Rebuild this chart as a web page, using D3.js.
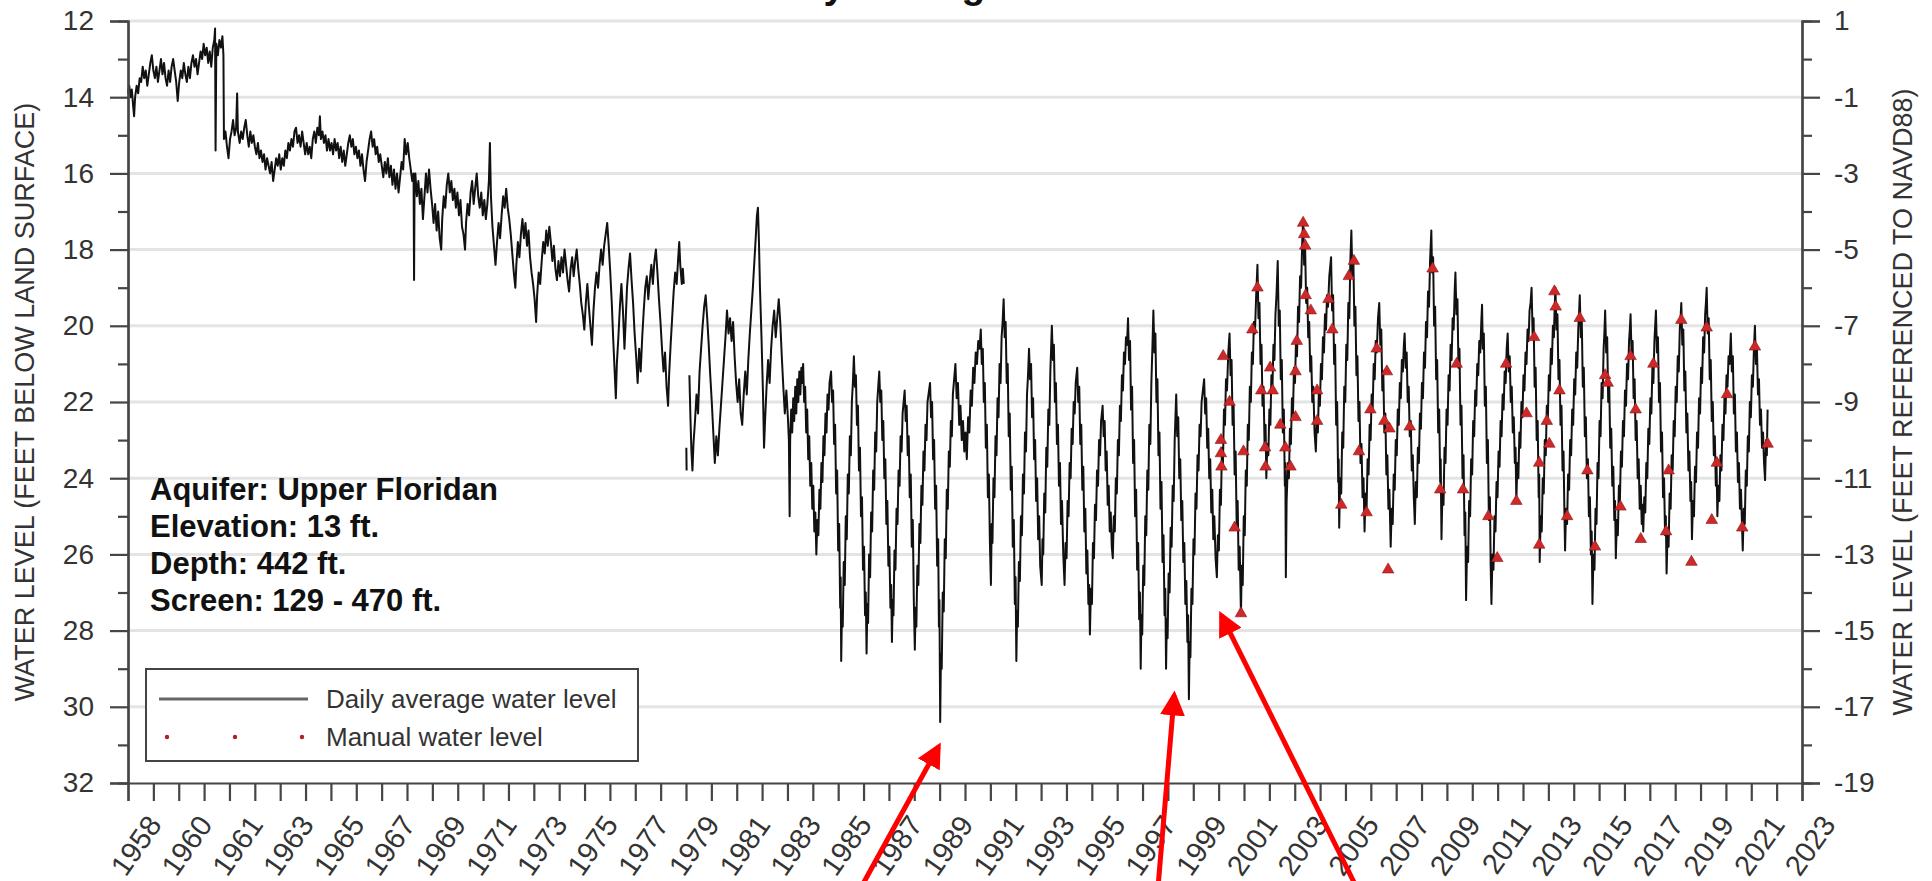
<!DOCTYPE html>
<html>
<head>
<meta charset="utf-8">
<script src="https://cdn.jsdelivr.net/npm/d3@7"></script>
<style>
  body { margin: 0; background: #fff; }
  svg { display: block; font-family: "Liberation Sans", Arial, sans-serif; }
</style>
</head>
<body>
<svg id="chart" width="1932" height="881"></svg>
<script>
// ---- daily average water level, feet below land surface, [decimal year, level]; null = gap ----
const levels1958to1969 = [
  [1958.00,13.9],[1958.05,13.7],[1958.10,14.0],[1958.15,13.8],[1958.20,14.2],[1958.24,14.5],[1958.28,14.0],[1958.34,13.7],[1958.40,13.9],[1958.46,13.5],[1958.52,13.6],[1958.58,13.2],[1958.64,13.5],[1958.70,13.3],[1958.76,13.7],[1958.82,13.4],[1958.88,13.1],[1958.94,12.9],
  [1959.00,13.3],[1959.06,13.5],[1959.12,13.2],[1959.18,13.6],[1959.24,13.3],[1959.30,13.0],[1959.36,13.4],[1959.42,13.1],[1959.48,13.5],[1959.54,13.7],[1959.60,13.3],[1959.66,13.6],[1959.72,13.2],[1959.78,13.0],[1959.84,13.3],[1959.90,13.6],[1959.96,14.1],
  [1960.02,13.6],[1960.08,13.3],[1960.14,13.5],[1960.20,13.1],[1960.26,13.4],[1960.32,13.6],[1960.38,13.2],[1960.44,13.5],[1960.50,13.1],[1960.56,12.9],[1960.62,13.2],[1960.68,13.0],[1960.74,13.4],[1960.80,13.1],[1960.86,12.8],[1960.92,13.0],[1960.98,12.6],
  [1961.04,12.9],[1961.10,12.7],[1961.16,13.1],[1961.22,12.8],[1961.28,13.2],[1961.34,12.7],[1961.40,12.5],[1961.43,12.2],[1961.45,15.4],[1961.48,12.6],[1961.54,12.9],[1961.60,12.5],[1961.66,12.7],[1961.72,12.4],[1961.76,12.9],[1961.78,15.1],[1961.84,14.9],[1961.90,15.3],[1961.96,15.6],
  [1962.02,15.1],[1962.08,14.9],[1962.14,14.6],[1962.20,15.0],[1962.26,14.8],[1962.30,13.9],[1962.33,14.9],[1962.40,15.2],[1962.46,14.9],[1962.52,15.1],[1962.58,14.8],[1962.64,14.6],[1962.70,15.0],[1962.76,15.3],[1962.82,14.9],[1962.88,15.2],[1962.94,15.0],
  [1963.00,15.3],[1963.06,15.5],[1963.12,15.2],[1963.18,15.6],[1963.24,15.4],[1963.30,15.7],[1963.36,15.5],[1963.42,15.9],[1963.48,15.6],[1963.54,15.8],[1963.60,16.0],[1963.66,15.7],[1963.72,16.2],[1963.78,15.9],[1963.84,15.6],[1963.90,15.8],[1963.96,15.5],
  [1964.02,15.9],[1964.08,15.6],[1964.14,15.8],[1964.20,15.4],[1964.26,15.6],[1964.32,15.2],[1964.38,15.4],[1964.44,15.1],[1964.50,15.3],[1964.56,14.9],[1964.62,14.8],[1964.68,15.2],[1964.74,15.0],[1964.80,15.3],[1964.86,14.9],[1964.92,15.2],[1964.98,15.5],
  [1965.04,15.2],[1965.10,15.5],[1965.16,15.3],[1965.22,15.6],[1965.28,15.1],[1965.34,14.9],[1965.40,15.2],[1965.46,14.8],[1965.52,15.0],[1965.56,14.5],[1965.60,15.1],[1965.66,14.9],[1965.72,15.2],[1965.78,15.0],[1965.84,15.4],[1965.90,15.1],[1965.96,15.4],
  [1966.02,15.2],[1966.08,15.5],[1966.14,15.1],[1966.20,15.4],[1966.26,15.2],[1966.32,15.6],[1966.38,15.3],[1966.44,15.7],[1966.50,15.4],[1966.56,15.8],[1966.62,15.5],[1966.68,15.2],[1966.74,15.0],[1966.80,15.3],[1966.86,15.1],[1966.92,15.5],[1966.98,15.3],
  [1967.04,15.6],[1967.10,15.4],[1967.16,15.8],[1967.22,15.5],[1967.28,15.9],[1967.34,16.2],[1967.40,15.7],[1967.46,15.4],[1967.52,15.1],[1967.58,14.9],[1967.64,15.3],[1967.70,15.1],[1967.76,15.5],[1967.82,15.3],[1967.88,15.7],[1967.94,15.5],
  [1968.00,15.8],[1968.06,16.1],[1968.12,15.7],[1968.18,16.0],[1968.24,15.6],[1968.30,16.1],[1968.36,15.8],[1968.42,16.3],[1968.48,15.9],[1968.54,16.4],[1968.60,16.0],[1968.66,16.5],[1968.72,16.1],[1968.78,15.7],[1968.84,15.9],[1968.90,15.1],[1968.96,15.5],
  [1969.02,15.2],[1969.08,15.6],[1969.14,15.9],[1969.20,16.2],[1969.25,16.0],[1969.27,18.8],[1969.29,16.3]
];
const levels1969to1980 = [
  [1969.32,16.0],[1969.38,16.6],[1969.44,16.2],[1969.50,16.8],[1969.56,16.4],[1969.62,17.2],[1969.68,16.6],[1969.74,16.0],[1969.80,16.5],[1969.86,15.9],[1969.92,16.4],[1969.98,16.8],
  [1970.04,17.3],[1970.10,16.8],[1970.16,17.5],[1970.22,17.0],[1970.28,17.7],[1970.34,18.0],[1970.38,17.2],[1970.44,16.6],[1970.50,16.9],[1970.56,16.3],[1970.62,16.0],[1970.68,16.5],[1970.74,16.2],[1970.80,16.7],[1970.86,16.4],[1970.92,16.9],[1970.98,16.5],
  [1971.04,17.1],[1971.10,16.7],[1971.16,17.4],[1971.22,17.6],[1971.28,18.0],[1971.32,17.3],[1971.38,16.8],[1971.44,17.1],[1971.50,16.5],[1971.56,16.2],[1971.62,16.8],[1971.68,16.4],[1971.74,16.0],[1971.80,16.6],[1971.86,16.9],[1971.92,16.5],[1971.98,17.1],
  [1972.04,16.7],[1972.10,17.2],[1972.16,16.8],[1972.22,16.2],[1972.26,15.2],[1972.30,16.6],[1972.36,17.4],[1972.42,17.9],[1972.48,18.4],[1972.54,17.8],[1972.60,17.3],[1972.66,17.7],[1972.72,17.1],[1972.78,16.6],[1972.84,16.9],[1972.90,16.4],[1972.96,16.9],
  [1973.02,17.2],[1973.08,17.6],[1973.14,18.1],[1973.20,18.6],[1973.26,19.0],[1973.30,18.4],[1973.36,17.8],[1973.42,18.2],[1973.48,17.6],[1973.54,17.2],[1973.60,17.7],[1973.66,17.3],[1973.72,17.9],[1973.78,17.5],[1973.84,18.2],[1973.90,18.6],[1973.96,18.9],
  [1974.02,19.3],[1974.08,19.9],[1974.12,19.2],[1974.18,18.6],[1974.24,18.9],[1974.30,18.3],[1974.36,17.8],[1974.42,18.1],[1974.48,17.5],[1974.54,17.9],[1974.60,17.4],[1974.66,17.8],[1974.72,18.3],[1974.78,17.9],[1974.84,18.5],[1974.90,18.8],[1974.96,18.3],
  [1975.02,18.7],[1975.08,18.2],[1975.14,18.6],[1975.20,18.0],[1975.26,18.4],[1975.32,18.8],[1975.38,19.1],[1975.44,18.5],[1975.50,18.2],[1975.56,18.7],[1975.62,18.3],[1975.68,18.0],[1975.74,18.5],[1975.80,18.9],[1975.86,19.4],[1975.92,19.7],[1975.98,20.1],
  [1976.04,19.4],[1976.10,18.9],[1976.16,19.5],[1976.22,20.0],[1976.28,20.5],[1976.34,19.6],[1976.40,19.0],[1976.46,18.6],[1976.52,19.0],[1976.58,18.4],[1976.64,18.0],[1976.70,18.4],[1976.76,17.9],[1976.82,17.6],[1976.88,17.3],[1976.94,17.9],
  [1977.00,18.6],[1977.06,19.4],[1977.12,20.4],[1977.18,21.3],[1977.22,21.9],[1977.26,21.0],[1977.32,20.3],[1977.38,19.5],[1977.44,18.9],[1977.50,19.6],[1977.56,20.6],[1977.60,20.0],[1977.66,19.0],[1977.72,18.5],[1977.78,18.1],[1977.84,18.8],[1977.90,19.4],[1977.96,20.2],
  [1978.02,20.8],[1978.08,21.5],[1978.14,20.6],[1978.20,21.2],[1978.26,20.3],[1978.32,19.6],[1978.38,19.0],[1978.44,18.7],[1978.50,19.3],[1978.56,18.8],[1978.62,18.4],[1978.68,18.9],[1978.74,18.3],[1978.80,18.0],[1978.86,18.6],[1978.92,19.3],[1978.98,19.9],
  [1979.04,20.6],[1979.10,21.2],[1979.16,20.7],[1979.22,21.6],[1979.28,22.1],[1979.32,21.3],[1979.38,20.5],[1979.44,19.8],[1979.50,19.1],[1979.56,18.6],[1979.62,18.9],[1979.68,18.2],[1979.72,17.8],[1979.76,18.4],[1979.82,18.9],[1979.86,18.5],[1979.90,18.9],
  null,
  [1980.00,23.2],[1980.01,23.8],
  null
];
const levels1980to1990 = [
  [1980.12,21.3],[1980.16,22.4],[1980.20,23.3],[1980.24,23.8],[1980.28,23.1],[1980.34,22.5],[1980.40,21.8],[1980.46,22.3],[1980.52,21.2],[1980.58,20.6],[1980.64,20.0],[1980.70,19.5],[1980.76,19.2],[1980.82,19.8],[1980.88,20.5],[1980.94,21.3],
  [1981.00,22.0],[1981.06,22.8],[1981.12,23.6],[1981.18,22.9],[1981.24,23.4],[1981.30,22.7],[1981.36,22.1],[1981.42,21.5],[1981.48,20.9],[1981.54,20.3],[1981.60,19.6],[1981.66,20.2],[1981.72,19.8],[1981.78,20.4],[1981.84,19.9],[1981.90,20.8],[1981.96,21.5],
  [1982.02,22.0],[1982.08,21.4],[1982.14,22.3],[1982.20,22.6],[1982.26,21.8],[1982.32,21.2],[1982.38,21.8],[1982.44,20.9],[1982.50,20.2],[1982.56,19.6],[1982.62,19.0],[1982.68,18.3],[1982.74,17.6],[1982.78,17.1],[1982.82,16.9],[1982.86,17.8],[1982.90,19.0],[1982.96,20.3],
  [1983.02,21.8],[1983.06,23.2],[1983.10,22.5],[1983.16,21.6],[1983.22,20.9],[1983.28,21.5],[1983.34,20.6],[1983.40,20.0],[1983.46,19.6],[1983.52,20.3],[1983.58,19.8],[1983.64,19.3],[1983.70,19.9],[1983.76,20.8],[1983.82,21.6],[1983.88,22.3],[1983.94,21.7],[1984.00,22.4],[1984.04,23.0],[1984.07,25.0],
  [1984.09,23.0],[1984.13,22.2],[1984.17,22.8],[1984.21,21.9],[1984.25,22.5],[1984.29,21.6],[1984.33,22.3],[1984.37,21.4],[1984.41,22.0],[1984.45,21.2],[1984.49,21.8],[1984.53,21.1],[1984.57,21.5],[1984.60,21.0],[1984.64,22.0],[1984.68,21.6],[1984.72,22.8],[1984.76,22.2],[1984.80,23.5],[1984.84,22.9],[1984.88,24.2],[1984.92,23.6],[1984.96,24.8],[1985.00,24.2],[1985.04,25.4],[1985.08,24.9],[1985.12,26.0],
  [1985.16,25.1],[1985.20,25.5],[1985.24,24.3],[1985.28,24.8],[1985.32,23.6],[1985.36,24.1],[1985.40,22.9],[1985.44,23.4],[1985.48,22.3],[1985.52,22.8],[1985.56,21.8],[1985.60,22.2],[1985.64,21.5],[1985.70,21.2],[1985.74,22.0],[1985.78,21.7],[1985.82,23.1],[1985.86,22.6],[1985.90,24.4],[1985.94,23.8],[1985.98,25.9],[1986.02,25.2],[1986.06,27.4],[1986.08,26.6],[1986.10,28.8],
  [1986.13,27.5],[1986.16,27.9],[1986.20,26.2],[1986.24,26.8],[1986.28,25.0],[1986.32,25.6],[1986.36,23.9],[1986.40,24.4],[1986.44,22.9],[1986.48,23.4],[1986.52,22.0],[1986.56,21.5],[1986.60,20.8],[1986.64,21.6],[1986.68,21.3],[1986.72,22.6],[1986.76,22.1],[1986.80,23.8],[1986.84,23.2],[1986.88,25.0],[1986.92,24.5],[1986.96,26.4],[1987.00,25.8],[1987.04,27.6],[1987.07,27.0],[1987.10,28.6],
  [1987.13,27.3],[1987.16,27.8],[1987.20,26.0],[1987.24,26.6],[1987.28,24.9],[1987.32,25.4],[1987.36,23.8],[1987.40,24.3],[1987.44,22.8],[1987.48,23.3],[1987.52,22.0],[1987.56,21.6],[1987.60,21.2],[1987.64,22.0],[1987.68,21.7],[1987.72,23.0],[1987.76,22.5],[1987.80,24.0],[1987.84,23.5],[1987.88,25.2],[1987.92,24.6],[1987.96,26.3],[1988.00,25.8],[1988.04,27.4],[1988.07,26.8],[1988.10,28.3],
  [1988.13,27.2],[1988.16,27.6],[1988.20,25.9],[1988.24,26.4],[1988.28,24.8],[1988.32,25.2],[1988.36,23.8],[1988.40,24.2],[1988.44,22.9],[1988.48,23.3],[1988.52,22.3],[1988.56,22.0],[1988.60,21.7],[1988.64,22.5],[1988.68,22.1],[1988.72,23.4],[1988.76,22.9],[1988.80,24.5],[1988.84,23.9],[1988.88,25.8],[1988.92,25.1],[1988.96,27.2],[1989.00,28.5],
  [1989.03,27.4],[1989.06,27.9],[1989.10,26.3],[1989.14,26.8],[1989.18,25.2],[1989.22,25.7],[1989.26,24.2],[1989.30,24.7],[1989.34,23.3],[1989.38,23.8],[1989.42,22.6],[1989.46,23.0],[1989.50,22.0],[1989.54,21.8],[1989.60,21.5],[1989.64,22.4],[1989.68,22.0],[1989.72,23.5],[1989.76,23.0],[1989.80,24.8],[1989.84,24.2],[1989.88,26.3],[1989.92,25.6],[1989.95,27.9],[1989.97,27.2],[1990.00,30.4]
];
const levels1990to2002 = [
  [1990.03,28.6],[1990.06,29.0],[1990.10,27.0],[1990.14,27.5],[1990.18,25.6],[1990.22,26.1],[1990.26,24.3],[1990.30,24.8],[1990.34,23.3],[1990.38,23.7],[1990.42,22.5],[1990.46,22.9],[1990.50,21.8],[1990.55,21.4],[1990.60,21.0],[1990.65,21.9],[1990.70,21.5],[1990.75,22.6],[1990.80,22.1],[1990.85,23.0],[1990.90,22.5],[1990.95,23.3],[1991.00,22.8],[1991.05,23.5],
  [1991.10,22.4],[1991.15,22.8],[1991.20,21.7],[1991.25,22.1],[1991.30,21.1],[1991.35,21.5],[1991.40,20.7],[1991.45,21.0],[1991.50,20.4],[1991.55,20.6],[1991.60,20.1],[1991.64,21.0],[1991.68,20.6],[1991.72,22.0],[1991.76,21.5],[1991.80,23.2],[1991.84,22.6],[1991.88,24.5],[1991.92,23.9],[1991.96,25.7],[1992.00,26.8],
  [1992.03,25.2],[1992.06,25.7],[1992.10,24.0],[1992.14,24.5],[1992.18,22.9],[1992.22,23.4],[1992.26,21.9],[1992.30,22.4],[1992.34,21.0],[1992.38,21.5],[1992.42,20.3],[1992.46,19.9],[1992.50,19.3],[1992.54,20.3],[1992.58,19.9],[1992.62,21.5],[1992.66,21.0],[1992.70,22.9],[1992.74,22.3],[1992.78,24.3],[1992.82,23.7],[1992.86,25.8],[1992.90,25.1],[1992.94,27.3],[1992.97,26.6],[1993.00,28.8],
  [1993.03,27.5],[1993.06,27.9],[1993.10,26.2],[1993.14,26.7],[1993.18,25.0],[1993.22,25.5],[1993.26,23.9],[1993.30,24.4],[1993.34,22.8],[1993.38,23.3],[1993.42,21.8],[1993.46,21.3],[1993.50,20.6],[1993.54,21.4],[1993.58,21.0],[1993.62,22.4],[1993.66,21.9],[1993.70,23.5],[1993.74,23.0],[1993.78,24.6],[1993.82,24.0],[1993.86,25.6],[1993.90,25.0],[1993.94,26.3],[1994.00,26.8],
  [1994.03,25.6],[1994.06,26.0],[1994.10,24.4],[1994.14,24.9],[1994.18,23.2],[1994.22,23.7],[1994.26,22.2],[1994.30,22.6],[1994.34,21.2],[1994.37,20.6],[1994.40,20.0],[1994.44,20.9],[1994.48,20.5],[1994.52,22.0],[1994.56,21.5],[1994.60,23.1],[1994.64,22.6],[1994.68,24.2],[1994.72,23.6],[1994.76,25.2],[1994.80,24.6],[1994.85,26.0],[1994.90,26.8],
  [1994.94,25.7],[1994.98,26.1],[1995.02,24.6],[1995.06,25.0],[1995.10,23.6],[1995.14,24.0],[1995.18,22.7],[1995.22,23.1],[1995.26,22.0],[1995.30,22.3],[1995.34,21.5],[1995.40,21.1],[1995.44,22.0],[1995.48,21.6],[1995.52,23.1],[1995.56,22.6],[1995.60,24.3],[1995.64,23.7],[1995.68,25.4],[1995.72,24.8],[1995.76,26.5],[1995.80,25.9],[1995.84,27.3],[1995.87,26.8],[1995.90,28.1],
  [1995.94,26.9],[1995.98,27.3],[1996.02,25.7],[1996.06,26.1],[1996.10,24.7],[1996.14,25.1],[1996.18,23.8],[1996.22,24.2],[1996.26,23.0],[1996.30,23.4],[1996.34,22.5],[1996.40,22.1],[1996.44,22.9],[1996.48,22.5],[1996.52,23.8],[1996.56,23.3],[1996.60,24.7],[1996.64,24.2],[1996.68,25.4],[1996.72,24.9],[1996.76,25.8],[1996.80,26.1],
  [1996.84,25.0],[1996.88,25.4],[1996.92,24.0],[1996.96,24.4],[1997.00,23.0],[1997.04,23.4],[1997.08,22.1],[1997.12,22.5],[1997.16,21.3],[1997.20,21.7],[1997.24,20.7],[1997.28,21.0],[1997.32,20.3],[1997.36,20.5],[1997.40,19.8],
  [1997.44,20.9],[1997.48,20.4],[1997.52,22.2],[1997.56,21.6],[1997.60,23.6],[1997.64,23.0],[1997.68,25.0],[1997.72,24.3],[1997.76,26.4],[1997.80,25.7],[1997.84,27.7],[1997.87,27.0],[1997.90,29.0],
  [1997.93,27.6],[1997.96,28.1],[1998.00,26.3],[1998.04,26.8],[1998.08,25.0],[1998.12,25.5],[1998.16,23.8],[1998.20,24.3],[1998.24,22.6],[1998.28,23.1],[1998.32,21.5],[1998.36,20.6],[1998.40,19.6],[1998.44,20.7],[1998.48,20.2],[1998.52,22.0],[1998.56,21.4],[1998.60,23.4],[1998.64,22.8],[1998.68,24.8],[1998.72,24.1],[1998.76,26.2],[1998.80,25.5],[1998.84,27.6],[1998.87,26.9],[1998.90,29.0],
  [1998.93,27.7],[1998.96,28.2],[1999.00,26.5],[1999.04,27.0],[1999.08,25.3],[1999.12,25.8],[1999.16,24.2],[1999.20,24.6],[1999.24,23.0],[1999.27,22.4],[1999.30,21.8],[1999.34,22.9],[1999.38,22.4],[1999.42,24.0],[1999.46,23.5],[1999.50,25.1],[1999.54,24.6],[1999.58,26.2],[1999.62,25.7],[1999.66,27.3],[1999.70,26.7],[1999.74,28.3],[1999.77,27.6],[1999.80,29.8],
  [1999.83,28.3],[1999.86,28.7],[1999.90,26.9],[1999.94,27.3],[1999.98,25.6],[2000.02,26.0],[2000.06,24.4],[2000.10,24.8],[2000.14,23.4],[2000.18,23.8],[2000.22,22.6],[2000.26,22.9],[2000.30,22.0],[2000.35,21.7],[2000.40,21.4],[2000.44,22.3],[2000.48,21.9],[2000.52,23.2],[2000.56,22.7],[2000.60,24.0],[2000.64,23.5],[2000.68,24.9],[2000.72,24.3],[2000.76,25.6],[2000.80,25.0],[2000.85,26.1],[2000.90,26.6],
  [2000.94,25.5],[2000.98,25.9],[2001.02,24.3],[2001.06,24.7],[2001.10,23.2],[2001.14,23.6],[2001.18,22.2],[2001.22,22.6],[2001.26,21.4],[2001.30,21.7],[2001.35,20.7],[2001.40,20.2],[2001.44,21.3],[2001.48,20.9],[2001.52,22.6],[2001.56,22.1],[2001.60,23.9],[2001.64,23.3],[2001.68,25.2],[2001.72,24.6],[2001.76,26.4],[2001.80,25.8],[2001.85,27.6]
];
const levels2002to2012 = [
  [2001.88,26.3],[2001.92,26.8],[2001.96,25.0],[2002.00,25.5],[2002.04,23.8],[2002.08,24.2],[2002.12,22.6],[2002.16,23.0],[2002.20,21.6],[2002.24,22.0],[2002.28,20.7],[2002.32,21.0],[2002.36,19.9],[2002.40,20.2],[2002.45,19.2],[2002.50,18.4],
  [2002.54,19.8],[2002.58,19.4],[2002.62,21.0],[2002.66,20.5],[2002.70,22.1],[2002.74,21.6],[2002.78,23.1],[2002.82,22.6],[2002.85,24.0],
  [2002.89,23.1],[2002.93,23.4],[2002.97,22.2],[2003.01,22.6],[2003.05,21.3],[2003.09,21.7],[2003.13,20.5],[2003.17,20.9],[2003.21,19.7],[2003.25,19.2],[2003.30,18.3],
  [2003.34,20.0],[2003.38,19.6],[2003.42,21.4],[2003.46,20.9],[2003.50,22.8],[2003.54,22.2],[2003.58,24.2],[2003.60,23.6],[2003.62,26.6],
  [2003.65,24.6],[2003.70,23.6],[2003.74,24.0],[2003.78,22.7],[2003.82,23.1],[2003.86,21.9],[2003.90,22.3],[2003.94,21.1],[2003.98,21.5],[2004.02,20.4],[2004.06,20.8],[2004.10,19.5],[2004.14,19.9],[2004.18,18.7],[2004.22,19.0],[2004.26,17.9],[2004.30,17.2],
  [2004.34,18.4],[2004.38,18.0],[2004.42,19.4],[2004.46,19.0],[2004.50,20.3],[2004.54,19.9],[2004.58,21.2],[2004.62,20.8],[2004.66,22.0],[2004.70,21.6],[2004.75,22.8],[2004.80,23.3],
  [2004.84,22.4],[2004.88,22.8],[2004.92,21.7],[2004.96,22.1],[2005.00,21.0],[2005.04,21.4],[2005.08,20.3],[2005.12,20.7],[2005.16,19.7],[2005.20,20.1],[2005.24,19.2],[2005.28,19.5],[2005.33,18.7],[2005.40,18.2],
  [2005.44,19.6],[2005.48,19.2],[2005.52,21.0],[2005.56,20.5],[2005.60,22.6],[2005.64,22.0],[2005.68,24.1],[2005.70,23.5],[2005.72,25.3],
  [2005.76,24.0],[2005.80,24.4],[2005.84,22.8],[2005.88,23.2],[2005.92,21.6],[2005.96,22.0],[2006.00,20.5],[2006.04,20.9],[2006.08,19.4],[2006.12,19.8],[2006.16,18.3],[2006.20,17.5],
  [2006.24,18.7],[2006.28,18.3],[2006.32,20.0],[2006.36,19.5],[2006.40,21.3],[2006.44,20.8],[2006.48,22.5],[2006.52,22.0],[2006.56,23.6],[2006.60,23.1],[2006.64,24.5],[2006.68,24.0],[2006.72,25.4],
  [2006.76,24.4],[2006.80,24.8],[2006.84,23.5],[2006.88,23.9],[2006.92,22.6],[2006.96,23.0],[2007.00,21.8],[2007.04,22.2],[2007.08,21.0],[2007.12,21.4],[2007.16,20.4],[2007.20,20.7],[2007.25,19.8],[2007.30,19.4],
  [2007.34,20.5],[2007.38,20.1],[2007.42,21.7],[2007.46,21.2],[2007.50,22.8],[2007.54,22.3],[2007.58,23.9],[2007.62,23.4],[2007.66,24.8],[2007.70,24.3],[2007.75,25.8],
  [2007.79,24.8],[2007.83,25.2],[2007.87,23.9],[2007.91,24.3],[2007.95,23.0],[2007.99,23.4],[2008.03,22.2],[2008.07,22.6],[2008.11,21.5],[2008.15,21.9],[2008.19,20.9],[2008.23,21.2],[2008.27,20.5],[2008.30,20.2],
  [2008.34,21.1],[2008.38,20.7],[2008.42,22.0],[2008.46,21.6],[2008.50,22.9],[2008.54,22.5],[2008.58,23.8],[2008.62,23.4],[2008.66,24.5],[2008.70,25.2],
  [2008.74,24.1],[2008.78,24.5],[2008.82,23.2],[2008.86,23.6],[2008.90,22.3],[2008.94,22.7],[2008.98,21.5],[2009.02,21.9],[2009.06,20.7],[2009.10,21.1],[2009.14,19.9],[2009.18,20.3],[2009.22,19.1],[2009.26,19.5],[2009.30,18.3],[2009.35,17.5],
  [2009.38,18.6],[2009.42,18.2],[2009.46,20.0],[2009.50,19.5],[2009.54,21.4],[2009.58,20.9],[2009.62,22.8],[2009.66,22.2],[2009.70,24.1],[2009.72,23.5],[2009.75,25.6],
  [2009.79,24.3],[2009.83,24.7],[2009.87,23.2],[2009.91,23.6],[2009.95,22.2],[2009.99,22.6],[2010.03,21.3],[2010.07,21.7],[2010.11,20.5],[2010.15,20.9],[2010.19,19.8],[2010.23,20.1],[2010.27,19.1],[2010.30,18.6],
  [2010.34,19.7],[2010.38,19.3],[2010.42,21.1],[2010.46,20.6],[2010.50,22.6],[2010.54,22.1],[2010.58,24.0],[2010.62,23.4],[2010.66,25.5],[2010.69,24.9],[2010.72,27.2],
  [2010.76,25.8],[2010.80,26.2],[2010.84,24.6],[2010.88,25.0],[2010.92,23.5],[2010.96,23.9],[2011.00,22.5],[2011.04,22.9],[2011.08,21.7],[2011.12,22.1],[2011.16,21.0],[2011.20,21.3],[2011.24,20.4],[2011.28,20.7],[2011.32,19.9],[2011.35,19.45],
  [2011.38,20.6],[2011.42,20.2],[2011.46,22.1],[2011.50,21.6],[2011.54,23.6],[2011.58,23.0],[2011.62,25.1],[2011.66,24.5],[2011.69,26.3],[2011.72,27.3],
  [2011.76,26.0],[2011.80,26.4],[2011.84,25.0],[2011.88,25.4],[2011.92,24.1],[2011.96,24.5],[2012.00,23.3],[2012.04,23.7],[2012.08,22.5],[2012.12,22.9],[2012.16,21.8],[2012.20,22.2],[2012.24,21.2],[2012.28,21.5],[2012.32,20.6],[2012.36,20.2]
];
const levels2012to2022 = [
  [2012.40,21.2],[2012.44,20.8],[2012.48,22.0],[2012.52,21.6],[2012.56,22.8],[2012.60,22.4],[2012.64,23.6],[2012.67,23.2],[2012.70,24.6],
  [2012.74,23.6],[2012.78,24.0],[2012.82,22.8],[2012.86,23.2],[2012.90,22.0],[2012.94,22.4],[2012.98,21.3],[2013.02,21.7],[2013.06,20.7],[2013.10,21.0],[2013.14,20.1],[2013.18,20.4],[2013.22,19.6],[2013.26,19.4],[2013.30,19.0],
  [2013.34,20.2],[2013.38,19.8],[2013.42,21.6],[2013.46,21.1],[2013.50,23.0],[2013.54,22.5],[2013.58,24.5],[2013.60,23.9],[2013.62,26.2],
  [2013.66,25.0],[2013.70,25.4],[2013.74,24.0],[2013.78,24.4],[2013.82,23.0],[2013.86,23.4],[2013.90,22.1],[2013.94,22.5],[2013.98,21.3],[2014.02,21.7],[2014.06,20.6],[2014.10,21.0],[2014.14,20.0],[2014.18,20.3],[2014.21,19.5],[2014.24,19.0],
  [2014.28,20.1],[2014.32,19.7],[2014.36,21.4],[2014.40,20.9],[2014.44,22.6],[2014.48,22.1],[2014.52,23.8],[2014.56,23.3],[2014.59,24.7],[2014.62,25.9],
  [2014.66,24.8],[2014.70,25.2],[2014.74,23.9],[2014.78,24.3],[2014.82,23.0],[2014.86,23.4],[2014.90,22.2],[2014.94,22.6],[2014.98,21.4],[2015.02,21.8],[2015.06,20.7],[2015.10,21.1],[2015.14,20.1],[2015.17,19.7],[2015.20,19.2],
  [2015.24,20.3],[2015.28,19.9],[2015.32,21.6],[2015.36,21.1],[2015.40,22.9],[2015.44,22.4],[2015.48,24.0],[2015.52,23.5],[2015.56,25.0],[2015.60,24.5],[2015.64,26.0],[2015.67,25.4],[2015.70,27.3],
  [2015.74,26.0],[2015.78,26.4],[2015.82,24.8],[2015.86,25.2],[2015.90,23.6],[2015.94,24.0],[2015.98,22.5],[2016.02,22.9],[2016.06,21.5],[2016.10,21.9],[2016.14,20.6],[2016.17,20.2],[2016.20,19.6],
  [2016.24,20.7],[2016.28,20.3],[2016.32,22.0],[2016.36,21.5],[2016.40,23.2],[2016.44,22.7],[2016.48,24.2],[2016.52,23.7],[2016.56,25.1],[2016.59,24.6],[2016.62,26.1],
  [2016.66,25.1],[2016.70,25.5],[2016.74,24.2],[2016.78,24.6],[2016.82,23.3],[2016.86,23.7],[2016.90,22.5],[2016.94,22.9],[2016.98,21.7],[2017.02,22.1],[2017.06,21.0],[2017.10,21.4],[2017.14,20.4],[2017.17,20.1],[2017.20,19.7],
  [2017.24,20.8],[2017.28,20.4],[2017.32,21.9],[2017.36,21.4],[2017.40,23.0],[2017.44,22.5],[2017.48,24.0],[2017.52,23.5],[2017.56,24.8],[2017.60,24.2],[2017.64,25.2],[2017.67,24.7],[2017.70,25.4],
  [2017.74,24.5],[2017.78,24.9],[2017.82,23.6],[2017.86,24.0],[2017.90,22.7],[2017.94,23.1],[2017.98,21.9],[2018.02,22.3],[2018.06,21.1],[2018.10,21.5],[2018.14,20.4],[2018.17,20.0],[2018.20,19.6],
  [2018.24,20.7],[2018.28,20.3],[2018.32,22.0],[2018.36,21.5],[2018.40,23.3],[2018.44,22.8],[2018.48,24.5],[2018.52,24.0],[2018.56,25.5],[2018.59,25.0],[2018.62,26.5],
  [2018.66,25.4],[2018.70,25.8],[2018.74,24.4],[2018.78,24.8],[2018.82,23.4],[2018.86,23.8],[2018.90,22.5],[2018.94,22.9],[2018.98,21.6],[2019.02,22.0],[2019.06,20.8],[2019.10,21.2],[2019.14,20.1],[2019.17,19.8],[2019.20,19.4],
  [2019.24,20.5],[2019.28,20.1],[2019.32,21.7],[2019.36,21.2],[2019.40,22.8],[2019.44,22.3],[2019.48,23.8],[2019.52,23.3],[2019.56,24.6],[2019.59,24.1],[2019.62,25.6],
  [2019.66,24.6],[2019.70,25.0],[2019.74,23.7],[2019.78,24.1],[2019.82,22.8],[2019.86,23.2],[2019.90,21.9],[2019.94,22.3],[2019.98,21.1],[2020.02,21.5],[2020.06,20.3],[2020.10,20.7],[2020.14,19.7],[2020.17,19.4],[2020.20,19.0],
  [2020.24,20.2],[2020.28,19.8],[2020.32,21.4],[2020.36,20.9],[2020.40,22.5],[2020.44,22.0],[2020.48,23.4],[2020.52,22.9],[2020.56,24.2],[2020.59,23.7],[2020.62,25.0],
  [2020.66,24.2],[2020.70,24.6],[2020.74,23.4],[2020.78,23.8],[2020.82,22.6],[2020.86,23.0],[2020.90,21.9],[2020.94,22.3],[2020.98,21.3],[2021.02,21.6],[2021.06,20.8],[2021.10,21.0],[2021.15,20.2],
  [2021.19,21.2],[2021.23,20.8],[2021.27,22.3],[2021.31,21.8],[2021.35,23.3],[2021.39,22.8],[2021.43,24.1],[2021.47,23.6],[2021.51,24.8],[2021.55,24.3],[2021.59,25.2],[2021.62,25.9],
  [2021.66,24.8],[2021.70,25.2],[2021.74,23.8],[2021.78,24.2],[2021.82,22.9],[2021.86,23.3],[2021.90,22.0],[2021.94,22.4],[2021.98,21.3],[2022.02,21.6],[2022.06,20.6],[2022.10,20.0],
  [2022.14,21.0],[2022.18,20.6],[2022.22,21.8],[2022.26,21.4],[2022.30,22.6],[2022.34,22.2],[2022.38,23.2],[2022.42,22.8],[2022.46,23.6],[2022.50,24.05],[2022.54,23.0],[2022.57,23.4],[2022.60,22.2]
];

// ---- manual (field) measurements, [decimal year, level] ----
const manualLevels = [
  [2001.06,23.0],[2001.06,23.35],[2001.08,23.7],[2001.15,20.8],[2001.40,22.0],[2001.60,25.3],[2001.85,27.55],[2001.95,23.3],
  [2002.30,20.1],[2002.50,19.0],[2002.65,21.7],[2002.80,23.2],[2002.82,23.7],[2003.00,21.1],[2003.10,21.7],[2003.40,22.6],
  [2003.60,23.2],[2003.80,23.7],[2004.00,21.2],[2004.00,22.4],[2004.05,20.4],[2004.30,17.3],[2004.34,17.6],[2004.38,17.9],
  [2004.40,19.2],[2004.60,19.6],[2004.85,21.7],[2004.85,22.5],[2005.30,19.3],[2005.45,20.1],[2005.80,24.7],[2006.10,18.7],
  [2006.30,18.3],[2006.50,23.3],[2006.80,24.9],[2006.95,22.2],[2007.20,20.6],[2007.50,22.5],[2007.70,22.7],[2007.65,26.4],
  [2007.60,21.2],[2008.50,22.65],[2009.40,18.5],[2009.70,24.3],[2010.35,21.0],[2010.60,24.3],[2011.60,25.0],[2011.95,26.1],
  [2012.30,21.0],[2012.70,24.6],[2013.10,22.3],[2013.40,20.3],[2013.60,23.6],[2013.60,25.75],[2013.90,22.5],[2014.00,23.1],
  [2014.20,19.1],[2014.25,19.5],[2014.40,21.7],[2014.70,25.0],[2015.20,19.8],[2015.50,23.8],[2015.80,25.8],[2016.20,21.3],
  [2016.30,21.5],[2016.80,24.75],[2017.20,20.8],[2017.40,22.2],[2017.60,25.6],[2018.10,21.0],[2018.60,25.4],[2018.70,23.8],
  [2019.20,19.85],[2019.60,26.2],[2020.20,20.05],[2020.40,25.1],[2020.60,23.6],[2021.00,21.8],[2021.60,25.3],[2022.10,20.55],
  [2022.60,23.1]
];

// ---- axes ----
const leftMajor = [12,14,16,18,20,22,24,26,28,30,32];
const leftMinor = [13,15,17,19,21,23,25,27,29,31];
const rightMajor = [1,-1,-3,-5,-7,-9,-11,-13,-15,-17,-19];
const rightMinor = [0,-2,-4,-6,-8,-10,-12,-14,-16,-18];
const landSurfaceElevation = 13;   // ft, NAVD88
const xTickCount = 67;             // one tick per 365 days, label every other
const infoLines = ["Aquifer: Upper Floridan", "Elevation: 13 ft.", "Depth: 442 ft.", "Screen: 129 - 470 ft."];
const legendLabels = ["Daily average water level", "Manual water level"];

// arrows marking the record lows, [tail year, tail level] -> [tip year, tip level]
const lowArrows = [
  {from: [1987.0, 34.6], to: [1989.93, 31.05]},
  {from: [1998.6, 34.6], to: [1999.22, 29.7]},
  {from: [2006.3, 34.6], to: [2001.08, 27.6]}
];

// ---- helpers ----
function yearToDate(y) {
  const yr = Math.floor(y);
  const a = new Date(yr, 0, 1), b = new Date(yr + 1, 0, 1);
  return new Date(+a + (y - yr) * (b - a));
}

const svg = d3.select("#chart");
const margin = {left: 128, right: 1802, top: 21, bottom: 783};
const start = new Date(1958, 0, 1);
const xTicks = d3.range(xTickCount).map(k => d3.timeDay.offset(start, k * 365));

const x = d3.scaleTime().domain([start, xTicks[xTicks.length - 1]]).range([margin.left, margin.right]);
const yL = d3.scaleLinear().domain([12, 32]).range([margin.top, margin.bottom]);
const yR = d3.scaleLinear().domain([landSurfaceElevation - 12, landSurfaceElevation - 32]).range([margin.top, margin.bottom]);

const axisColor = "#454545";
const textColor = "#333";

// title (sits at the top edge)
svg.append("text")
  .attr("x", 752).attr("y", -2)
  .attr("font-size", 39).attr("font-weight", "bold").attr("fill", "#111")
  .text("Daily Average Water Level");

// gridlines
svg.append("g").selectAll("line").data(leftMajor.slice(0, -1)).join("line")
  .attr("x1", margin.left).attr("x2", margin.right)
  .attr("y1", d => yL(d)).attr("y2", d => yL(d))
  .attr("stroke", "#e4e4e4").attr("stroke-width", 3);

// water level line
const series = [].concat(levels1958to1969, levels1969to1980, levels1980to1990, levels1990to2002, levels2002to2012, levels2012to2022);
const line = d3.line()
  .defined(d => d !== null)
  .x(d => x(yearToDate(d[0])))
  .y(d => yL(d[1]));
svg.append("path").datum(series)
  .attr("d", line).attr("fill", "none")
  .attr("stroke", "#111").attr("stroke-width", 2.0).attr("stroke-linejoin", "round");

// manual measurements
const tri = d3.symbol().type(d3.symbolTriangle).size(58);
svg.append("g").selectAll("path").data(manualLevels).join("path")
  .attr("transform", d => `translate(${x(yearToDate(d[0]))},${yL(d[1])})`)
  .attr("d", tri).attr("fill", "#d02828").attr("stroke", "#8a1a1a").attr("stroke-width", 0.6);

// axes
function styleAxis(g) {
  g.select(".domain").attr("stroke", axisColor).attr("stroke-width", 2.2);
  g.selectAll(".tick line").attr("stroke", axisColor).attr("stroke-width", 2.2);
  g.selectAll("text").attr("fill", textColor).attr("font-family", "Liberation Sans, Arial, sans-serif");
}
const plainNumber = d => String(d);

svg.append("g").attr("transform", `translate(${margin.left},0)`)
  .call(d3.axisLeft(yL).tickValues(leftMinor).tickSize(10).tickFormat(""))
  .call(styleAxis);
svg.append("g").attr("transform", `translate(${margin.left},0)`)
  .call(d3.axisLeft(yL).tickValues(leftMajor).tickSize(18).tickPadding(16).tickFormat(plainNumber))
  .call(styleAxis)
  .call(g => g.selectAll("text").attr("font-size", 28));

svg.append("g").attr("transform", `translate(${margin.right},0)`)
  .call(d3.axisRight(yR).tickValues(rightMinor).tickSize(10).tickFormat(""))
  .call(styleAxis);
svg.append("g").attr("transform", `translate(${margin.right},0)`)
  .call(d3.axisRight(yR).tickValues(rightMajor).tickSize(18).tickPadding(14).tickFormat(plainNumber))
  .call(styleAxis)
  .call(g => g.selectAll("text").attr("font-size", 28));

const xAxis = svg.append("g").attr("transform", `translate(0,${margin.bottom})`)
  .call(d3.axisBottom(x).tickValues(xTicks).tickSize(18).tickFormat((d, i) => i % 2 === 0 ? d.getFullYear() : ""))
  .call(styleAxis);
xAxis.selectAll(".tick text")
  .attr("font-size", 29)
  .attr("text-anchor", "end")
  .attr("dy", "0.35em")
  .attr("y", 0).attr("x", 0)
  .attr("transform", "translate(26,36) rotate(-55)");

// axis titles
svg.append("text")
  .attr("transform", `translate(34,${(margin.top + margin.bottom) / 2}) rotate(-90)`)
  .attr("text-anchor", "middle").attr("font-size", 27).attr("fill", textColor)
  .text("WATER LEVEL (FEET BELOW LAND SURFACE)");
svg.append("text")
  .attr("transform", `translate(1912,${(margin.top + margin.bottom) / 2}) rotate(-90)`)
  .attr("text-anchor", "middle").attr("font-size", 27).attr("fill", textColor)
  .text("WATER LEVEL (FEET REFERENCED TO NAVD88)");

// well information block
svg.append("g").selectAll("text").data(infoLines).join("text")
  .attr("x", 150).attr("y", (d, i) => 500 + i * 37)
  .attr("font-size", 31).attr("font-weight", "bold").attr("fill", "#111")
  .text(d => d);

// legend
const lg = svg.append("g");
lg.append("rect").attr("x", 146).attr("y", 669).attr("width", 492).attr("height", 92)
  .attr("fill", "#fff").attr("stroke", "#444").attr("stroke-width", 2);
lg.append("line").attr("x1", 159).attr("x2", 308).attr("y1", 699).attr("y2", 699)
  .attr("stroke", "#666").attr("stroke-width", 3);
lg.selectAll("circle").data([167, 235, 302]).join("circle")
  .attr("cx", d => d).attr("cy", 737).attr("r", 2.2).attr("fill", "#b02020");
lg.selectAll("text").data(legendLabels).join("text")
  .attr("x", 326).attr("y", (d, i) => 708 + i * 38)
  .attr("font-size", 26).attr("fill", textColor)
  .text(d => d);

// red arrows
const defs = svg.append("defs");
defs.append("marker").attr("id", "arrowhead")
  .attr("viewBox", "0 0 10 10").attr("refX", 8).attr("refY", 5)
  .attr("markerWidth", 5).attr("markerHeight", 5).attr("orient", "auto")
  .append("path").attr("d", "M0,0 L10,5 L0,10 z").attr("fill", "#f00");
svg.append("g").selectAll("line").data(lowArrows).join("line")
  .attr("x1", d => x(yearToDate(d.from[0]))).attr("y1", d => yL(d.from[1]))
  .attr("x2", d => x(yearToDate(d.to[0]))).attr("y2", d => yL(d.to[1]))
  .attr("stroke", "#f00").attr("stroke-width", 5)
  .attr("marker-end", "url(#arrowhead)");
</script>
</body>
</html>
